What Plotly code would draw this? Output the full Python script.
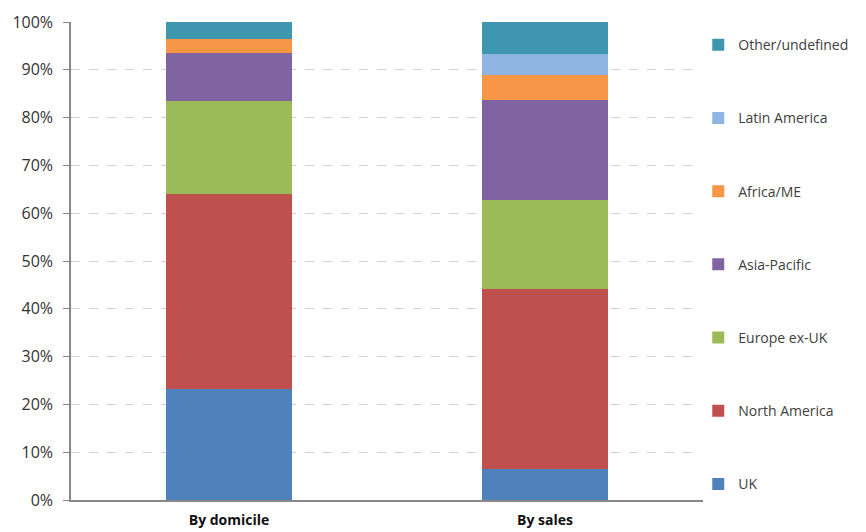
import plotly.graph_objects as go

categories = ["By domicile", "By sales"]
series_names = ["UK", "North America", "Europe ex-UK", "Asia-Pacific",
                "Africa/ME", "Latin America", "Other/undefined"]
uk = [23.2, 6.5]
north_america = [40.8, 37.7]
europe_ex_uk = [19.5, 18.5]
asia_pacific = [10.1, 20.9]
africa_me = [2.8, 5.4]
latin_america = [0.0, 4.3]
other_undefined = [3.6, 6.7]
series_values = [uk, north_america, europe_ex_uk, asia_pacific,
                 africa_me, latin_america, other_undefined]
colors = ["#4F81BD", "#C0504D", "#9BBB59", "#8064A2",
          "#F79646", "#8DB4E2", "#3F97AF"]
tick_vals = [0, 10, 20, 30, 40, 50, 60, 70, 80, 90, 100]
tick_text = [f"{v}%" for v in tick_vals]

FONT = "Open Sans"

fig = go.Figure()
n = len(series_names)
for i, (name, vals, col) in enumerate(zip(series_names, series_values, colors)):
    fig.add_trace(go.Bar(
        x=categories, y=vals, name=name, legendgroup=name,
        legendrank=n - i,
        marker=dict(color=col, line=dict(width=0)),
        width=0.4,
    ))

fig.update_layout(
    barmode="stack",
    width=866, height=532,
    margin=dict(l=71, r=161, t=22, b=32),
    plot_bgcolor="white", paper_bgcolor="white",
    font=dict(family=FONT, size=14, color="#333333"),
    showlegend=True,
    legend=dict(
        traceorder="grouped",
        tracegroupgap=52,
        x=0.9925, xanchor="left",
        y=0.985, yanchor="top",
        maxheight=520,
        font=dict(family=FONT, size=14, color="#404040"),
        itemclick=False, itemdoubleclick=False,
    ),
    xaxis=dict(
        showline=True, linecolor="#888888", linewidth=1.5,
        ticks="", automargin=False, ticklabelstandoff=6,
        tickfont=dict(family=FONT, size=14, color="#111111", weight="bold"),
        showgrid=False,
    ),
    yaxis=dict(
        range=[0, 100],
        tickvals=tick_vals, ticktext=tick_text,
        showline=True, linecolor="#888888", linewidth=1.5,
        ticks="outside", ticklen=6, tickcolor="#888888",
        ticklabelstandoff=7,
        tickfont=dict(family=FONT, size=16, color="#333333"),
        showgrid=True, gridcolor="#d2d2d2", griddash="dash", gridwidth=1,
        zeroline=False,
    ),
)

fig.write_html("out.html")
